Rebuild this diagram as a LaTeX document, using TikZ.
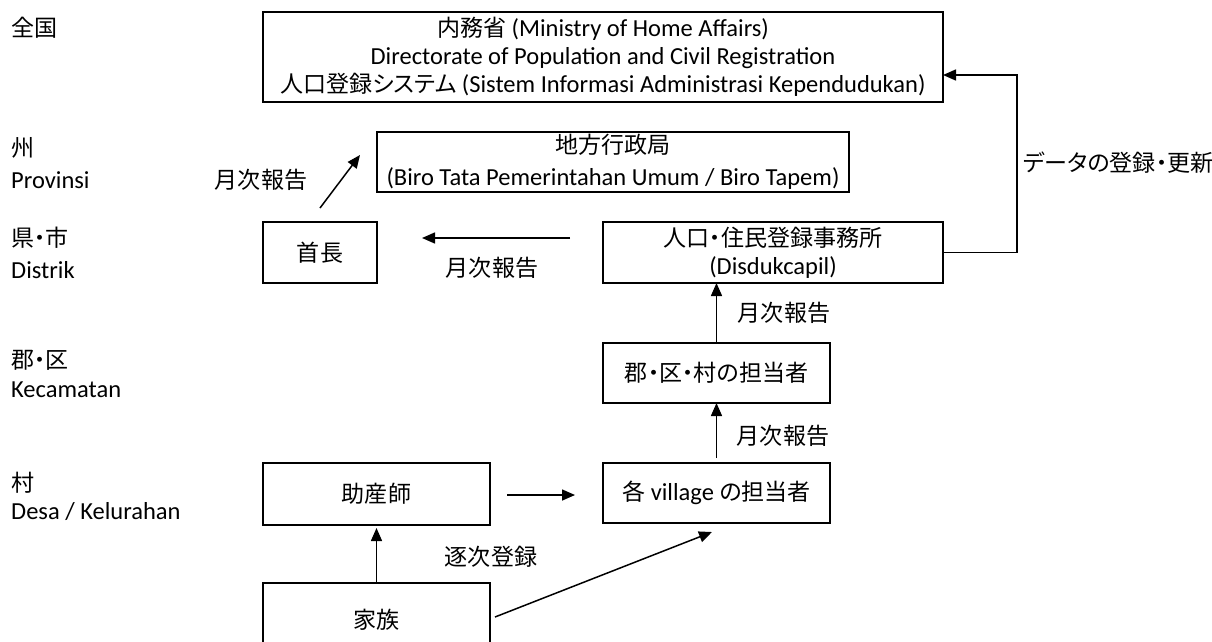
\documentclass[tikz,border=0pt]{standalone}
\usepackage{fontspec}
\setmainfont{Carlito}
\newfontfamily\jpf[RawFeature=+palt,Scale=0.94]{Noto Sans CJK JP}
\newcommand\J[1]{{\jpf #1}}
\usetikzlibrary{arrows.meta}
\begin{document}
\begin{tikzpicture}[x=1pt,y=-1pt,
  box/.style={draw,line width=1.8pt,inner sep=0pt,outer sep=0pt,align=center,font=\fontsize{24.5}{28}\selectfont},
  lbl/.style={inner sep=0pt,font=\fontsize{24.5}{28}\selectfont},
  arr/.style={line width=1.5pt,-{Triangle[length=13pt,width=11pt]}}]
\fill[white] (0,0) rectangle (1212,641);
\useasboundingbox (0,0) rectangle (1212,641);

% boxes
\node[box,minimum width=680pt,minimum height=90pt] (top) at (603,57)
  {\J{内務省} (Ministry of Home Affairs)\\Directorate of Population and Civil Registration\\\J{人口登録システム} (Sistem Informasi Administrasi Kependudukan)};
\node[box,minimum width=472pt,minimum height=60pt,font=\fontsize{24.5}{32}\selectfont] (chiho) at (613,162)
  {\J{地方行政局}\\(Biro Tata Pemerintahan Umum / Biro Tapem)};
\node[box,minimum width=114pt,minimum height=61pt] (shu) at (320,252.5) {\J{首長}};
\node[box,minimum width=340pt,minimum height=61pt] (dis) at (773,252.5)
  {\J{人口・住民登録事務所}\\(Disdukcapil)};
\node[box,minimum width=227pt,minimum height=60pt] (gun) at (716.5,373) {\J{郡・区・村の担当者}};
\node[box,minimum width=227pt,minimum height=60pt] (vil) at (716.5,493) {\J{各} village \J{の担当者}};
\node[box,minimum width=227pt,minimum height=62pt] (jos) at (376.5,494) {\J{助産師}};
\node[box,minimum width=227pt,minimum height=74pt] (kaz) at (376.5,620) {\J{家族}};

% free ends
\coordinate (d1s) at (320,208);
\coordinate (d1e) at (360,155);
\coordinate (hs) at (570,238);
\coordinate (he) at (422,238);
\coordinate (js) at (507,495);
\coordinate (je) at (575,495);
\coordinate (ve) at (712,532);
\coordinate (kd) at (495,617);
\coordinate (rc) at (1017,75);

% connectors
\draw[arr] (d1s) -- (d1e);
\draw[arr] (hs) -- (he);
\draw[arr] (gun.north) -- (gun.north |- dis.south);
\draw[arr] ([yshift=5pt]vil.north) -- (gun.south);
\draw[arr] (js) -- (je);
\draw[arr,shorten >=3pt] (kaz.north) -- (jos.south);
\draw[arr] (kd) -- (ve);
\draw[arr] (dis.east) -| (rc) -- (rc -| top.east);

% labels
\node[lbl] (l1) at (261,180) {\J{月次報告}};
\node[lbl] (l2) at (492,268) {\J{月次報告}};
\node[lbl] (l3) at (784,313) {\J{月次報告}};
\node[lbl] (l4) at (783,436) {\J{月次報告}};
\node[lbl] (l5) at (491,557) {\J{逐次登録}};
\node[lbl,anchor=west] (l6) at (1023,163) {\J{データの登録・更新}};

% level labels
\node[lbl,anchor=west] (z1) at (11,28) {\J{全国}};
\node[lbl,anchor=west] (z2) at (11,148) {\J{州}};
\node[lbl,anchor=west] (z3) at (11,180) {Provinsi};
\node[lbl,anchor=west] (z4) at (11,238) {\J{県・市}};
\node[lbl,anchor=west] (z5) at (11,270) {Distrik};
\node[lbl,anchor=west] (z6) at (11,360) {\J{郡・区}};
\node[lbl,anchor=west] (z7) at (11,390) {Kecamatan};
\node[lbl,anchor=west] (z8) at (11,483) {\J{村}};
\node[lbl,anchor=west] (z9) at (11,512) {Desa / Kelurahan};
\end{tikzpicture}
\end{document}
